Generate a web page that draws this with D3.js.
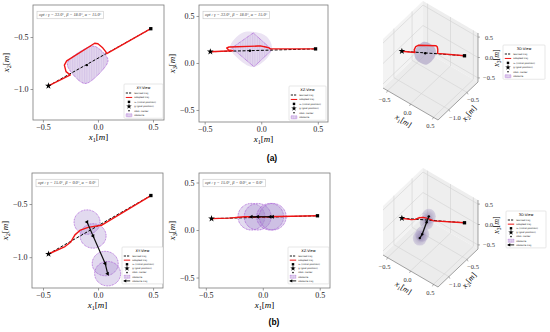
<!DOCTYPE html>
<html><head><meta charset="utf-8">
<script src="https://cdn.jsdelivr.net/npm/d3@7"></script>
<style>body{margin:0;background:#fff}</style>
</head><body>
<script>
// ---- values ----
// initial position x0 (square) and goal g (star): [x1, x2, x3]
var initPos = [0.48, -0.42, 0.15],
    goalPos = [-0.45, -0.97, 0.12];

// learned trajectory (straight line between the two)
var learnedX1 = [-0.45, 0.48],
    learnedX2 = [-0.97, -0.42],
    learnedX3 = [0.12, 0.15];

// (a) static obstacle
var adaptA_x1 = [-0.45, -0.25, -0.29, -0.305, -0.284, -0.03, 0.0, 0.04, 0.07, 0.08, 0.48],
    adaptA_x2 = [-0.97, -0.865, -0.833, -0.77, -0.73, -0.56, -0.565, -0.6, -0.64, -0.66, -0.42],
    adaptA_x3 = [0.12, 0.13, 0.14, 0.16, 0.17, 0.18, 0.18, 0.17, 0.16, 0.15, 0.15];
var obsA_center = [-0.1, -0.77, 0.13];
var obsA_xy_x1 = [-0.269, -0.071, -0.018, 0.088, 0.082, -0.092, -0.147, -0.273],
    obsA_xy_x2 = [-0.731, -0.592, -0.594, -0.706, -0.759, -0.941, -0.937, -0.786];
var obsA_xzBlob_x1 = [-0.276, -0.17, -0.055, 0.05, 0.095, 0.06, -0.073, -0.21],
    obsA_xzBlob_x3 = [0.17, 0.32, 0.33, 0.28, 0.17, 0.064, -0.043, 0.053];
var obsA_xzDia_x1 = [-0.07, 0.095, -0.064, -0.26],
    obsA_xzDia_x3 = [0.32, 0.14, -0.04, 0.16];
var obsA_half = [0.12, 0.12, 0.1];

// (b) moving obstacle
var adaptB_x1 = [-0.45, -0.30, -0.25, -0.21, -0.16, -0.09, 0.03, 0.48],
    adaptB_x2 = [-0.97, -0.90, -0.86, -0.79, -0.745, -0.72, -0.70, -0.42],
    adaptB_x3 = [0.12, 0.125, 0.13, 0.135, 0.14, 0.14, 0.14, 0.15];
var obsB_x1 = [-0.10, -0.045, 0.065, 0.087],
    obsB_x2 = [-0.67, -0.80, -1.06, -1.155],
    obsB_x3 = [0.14, 0.14, 0.14, 0.14];
var obsB_radius = [0.118, 0.115, 0.14];

var optA = "opt : γ = 33.0°, β = 18.0°, α = 15.0°",
    optB = "opt : γ = 15.0°, β = 0.0°, α = 0.0°";
var ticksX = [-0.5, 0.0, 0.5],
    ticksXY = [-1.0, -0.5],
    ticksXZ = [-0.5, 0.0, 0.5];

var serif = "'Liberation Serif','DejaVu Serif',serif",
    sans = "'DejaVu Sans',sans-serif",
    red = "#f01414", purple = "#a451d4";

var svg = d3.select("body").append("svg").attr("width", 550).attr("height", 332);
var defs = svg.append("defs");
var hatch = defs.append("pattern").attr("id", "hatch").attr("patternUnits", "userSpaceOnUse")
    .attr("width", 2.4).attr("height", 4);
hatch.append("rect").attr("width", 2.4).attr("height", 4).attr("fill", "#e2d6ee");
hatch.append("line").attr("x1", 0.6).attr("x2", 0.6).attr("y1", 0).attr("y2", 4)
    .attr("stroke", "#c2acdd").attr("stroke-width", 0.5);
var rg = defs.append("radialGradient").attr("id", "ball");
rg.append("stop").attr("offset", "0%").attr("stop-color", "#6d5c92").attr("stop-opacity", 0.55);
rg.append("stop").attr("offset", "100%").attr("stop-color", "#a99cc8").attr("stop-opacity", 0.35);

var fmt = d3.format(".1f");

function mathLabel(t, sub, fs) {
    t.attr("font-family", serif).attr("font-size", fs);
    t.append("tspan").attr("font-style", "italic").text("x");
    t.append("tspan").attr("font-size", fs * 0.7).attr("dy", fs * 0.25).text(sub);
    t.append("tspan").attr("dy", -fs * 0.25).text("[");
    t.append("tspan").attr("font-style", "italic").text("m");
    t.append("tspan").text("]");
}

var sym = {
    square: d3.symbol(d3.symbolSquare, 11),
    star: d3.symbol(d3.symbolStar, 14),
    tri: d3.symbol(d3.symbolTriangle, 7)
};

function panel2D(o) {
    var x = d3.scaleLinear().domain(o.xDom).range([o.left, o.right]),
        y = d3.scaleLinear().domain(o.yDom).range([o.bottom, o.top]),
        g = svg.append("g");
    var ax = g.append("g").attr("transform", "translate(0," + o.bottom + ")")
        .call(d3.axisBottom(x).tickValues(ticksX).tickSize(2.5).tickPadding(2).tickFormat(fmt));
    var ay = g.append("g").attr("transform", "translate(" + o.left + ",0)")
        .call(d3.axisLeft(y).tickValues(o.yTicks).tickSize(2.5).tickPadding(2).tickFormat(fmt));
    [ax, ay].forEach(function (a) {
        a.select(".domain").remove();
        a.selectAll("line").attr("stroke", "#555").attr("stroke-width", 0.6);
        a.selectAll("text").attr("font-family", serif).attr("font-size", 8).attr("fill", "#222");
    });
    var id = "clip" + o.id;
    defs.append("clipPath").attr("id", id).append("rect")
        .attr("x", o.left).attr("y", o.top).attr("width", o.right - o.left).attr("height", o.bottom - o.top);
    var plot = g.append("g").attr("clip-path", "url(#" + id + ")");
    g.append("rect").attr("x", o.left).attr("y", o.top).attr("width", o.right - o.left).attr("height", o.bottom - o.top)
        .attr("fill", "none").attr("stroke", "#7a7a7a").attr("stroke-width", 0.8);
    mathLabel(g.append("text").attr("x", (o.left + o.right) / 2).attr("y", o.bottom + 20).attr("text-anchor", "middle"), "1", 9);
    mathLabel(g.append("text").attr("text-anchor", "middle")
        .attr("transform", "translate(" + (o.left - 24) + "," + ((o.top + o.bottom) / 2) + ") rotate(-90)"), o.ySub, 9);
    // opt label with framed box
    var og = g.append("g");
    var ob = og.append("rect");
    var ot = og.append("text").attr("x", o.left + 6).attr("y", o.top + 11).attr("font-family", serif)
        .attr("font-style", "italic").attr("font-size", 4.3).attr("fill", "#333").text(o.opt);
    var bb = ot.node().getBBox();
    ob.attr("x", bb.x - 2).attr("y", bb.y - 0.8).attr("width", bb.width + 4)
        .attr("height", bb.height + 1.6).attr("fill", "#fff").attr("stroke", "#bbb").attr("stroke-width", 0.5);
    return {x: x, y: y, g: g, plot: plot};
}

function legend(x0, y0, w, sp, title, entries) {
    var n = entries.length, h = 9 + (n - 1) * sp + 3;
    var lg = svg.append("g");
    lg.append("rect").attr("x", x0).attr("y", y0).attr("width", w).attr("height", h).attr("rx", 0.8)
        .attr("fill", "#fff").attr("stroke", "#cfcfcf").attr("stroke-width", 0.5);
    lg.append("text").attr("x", x0 + w / 2).attr("y", y0 + 4.8).attr("text-anchor", "middle")
        .attr("font-family", sans).attr("font-size", 3.6).text(title);
    entries.forEach(function (e, i) {
        var cy = y0 + 9 + i * sp, a = x0 + 1.8, b = x0 + 8.2, m = (a + b) / 2;
        if (e[0] === "learned")
            lg.append("line").attr("x1", a).attr("x2", b).attr("y1", cy).attr("y2", cy)
                .attr("stroke", "#000").attr("stroke-width", 0.9).attr("stroke-dasharray", "2.2,1");
        if (e[0] === "adapted")
            lg.append("line").attr("x1", a).attr("x2", b).attr("y1", cy).attr("y2", cy)
                .attr("stroke", red).attr("stroke-width", 1);
        if (e[0] === "init")
            lg.append("path").attr("d", d3.symbol(d3.symbolSquare, 6)()).attr("transform", "translate(" + m + "," + cy + ")");
        if (e[0] === "goal")
            lg.append("path").attr("d", d3.symbol(d3.symbolStar, 9)()).attr("transform", "translate(" + m + "," + cy + ")");
        if (e[0] === "center")
            lg.append("circle").attr("cx", m).attr("cy", cy).attr("r", 0.8);
        if (e[0] === "obstacle")
            lg.append("rect").attr("x", a + 0.3).attr("y", cy - 1.5).attr("width", b - a - 0.6).attr("height", 3)
                .attr("fill", "url(#hatch)").attr("stroke", purple).attr("stroke-width", 0.6).attr("stroke-dasharray", "0.6,0.6");
        if (e[0] === "obstraj") {
            lg.append("line").attr("x1", a).attr("x2", b).attr("y1", cy).attr("y2", cy).attr("stroke", "#000").attr("stroke-width", 0.9);
            lg.append("path").attr("d", d3.symbol(d3.symbolTriangle, 5)()).attr("transform", "translate(" + (a + 1.5) + "," + cy + ") rotate(-90)");
        }
        lg.append("text").attr("x", x0 + 10.2).attr("y", cy + 0.8).attr("font-family", sans)
            .attr("font-size", 2.4).attr("fill", "#111").text(e[1]);
    });
}

var entriesA = [["learned", "learned traj."], ["adapted", "adapted traj."], ["init", "x\u2080 (initial position)"],
    ["goal", "g (goal position)"], ["center", "obst. center"], ["obstacle", "obstacle"]];
var entriesB = entriesA.concat([["obstraj", "obstacle traj."]]);

function pathLine(px, py, xs, ys) {
    return d3.line().x(function (d) { return px(d); }).y(function (d, i) { return py(ys[i]); })(xs);
}

function drawTraj(P, xs, ys, lx, ly) {
    P.plot.append("path").attr("d", pathLine(P.x, P.y, lx, ly)).attr("fill", "none")
        .attr("stroke", "#000").attr("stroke-width", 1.0).attr("stroke-dasharray", "3,1.6");
    P.plot.append("path").attr("d", pathLine(P.x, P.y, xs, ys)).attr("fill", "none")
        .attr("stroke", red).attr("stroke-width", 1.4).attr("stroke-linejoin", "round");
}

function placeMarkers(P, yIdx) {
    P.plot.append("path").attr("d", sym.square()).attr("transform", "translate(" + P.x(initPos[0]) + "," + P.y(initPos[yIdx]) + ")");
    P.plot.append("path").attr("d", sym.star()).attr("transform", "translate(" + P.x(goalPos[0]) + "," + P.y(goalPos[yIdx]) + ")");
}

function obstacleShape(P, xs, ys, fill, dotted) {
    var line = d3.line().curve(d3.curveCatmullRomClosed.alpha(0.5))
        .x(function (d) { return P.x(d); }).y(function (d, i) { return P.y(ys[i]); });
    P.plot.append("path").attr("d", line(xs)).attr("fill", fill)
        .attr("stroke", dotted ? purple : "none").attr("stroke-width", 0.9).attr("stroke-dasharray", "0.8,0.8");
}

// ================= (a) =================
var aXY = panel2D({id: "aXY", left: 33, right: 164, top: 5, bottom: 120, xDom: [-0.59, 0.6], yDom: [-1.298, -0.192],
    yTicks: ticksXY, ySub: "2", opt: optA});
obstacleShape(aXY, obsA_xy_x1, obsA_xy_x2, "url(#hatch)", true);
drawTraj(aXY, adaptA_x1, adaptA_x2, learnedX1, learnedX2);
aXY.plot.append("circle").attr("cx", aXY.x(obsA_center[0])).attr("cy", aXY.y(obsA_center[1])).attr("r", 1.2);
placeMarkers(aXY, 1);
legend(124, 84, 39, 4.45, "XY-View", entriesA);

var aXZ = panel2D({id: "aXZ", left: 199, right: 328, top: 5, bottom: 122, xDom: [-0.55, 0.59], yDom: [-0.628, 0.617],
    yTicks: ticksXZ, ySub: "3", opt: optA});
obstacleShape(aXZ, obsA_xzBlob_x1, obsA_xzBlob_x3, "#ebe3f3", false);
aXZ.plot.append("path").attr("d", d3.line().x(function (d) { return aXZ.x(d); })
        .y(function (d, i) { return aXZ.y(obsA_xzDia_x3[i]); }).curve(d3.curveLinearClosed)(obsA_xzDia_x1))
    .attr("fill", "url(#hatch)").attr("stroke", purple).attr("stroke-width", 0.9).attr("stroke-dasharray", "0.8,0.8");
drawTraj(aXZ, adaptA_x1, adaptA_x3, learnedX1, learnedX3);
aXZ.plot.append("circle").attr("cx", aXZ.x(obsA_center[0])).attr("cy", aXZ.y(obsA_center[2])).attr("r", 1.2);
placeMarkers(aXZ, 2);
legend(289, 86, 37, 4.45, "XZ-View", entriesA);

// ================= (b) =================
function ellipses(P, yArr, ry) {
    obsB_x1.forEach(function (cx, i) {
        P.plot.append("ellipse").attr("cx", P.x(cx)).attr("cy", P.y(yArr[i]))
            .attr("rx", Math.abs(P.x(obsB_radius[0]) - P.x(0)))
            .attr("ry", Math.abs(P.y(ry) - P.y(0)))
            .attr("fill", "#9f86c9").attr("fill-opacity", 0.3)
            .attr("stroke", purple).attr("stroke-width", 0.9).attr("stroke-dasharray", "0.8,0.8");
    });
}
function obsTraj(P, yArr) {
    P.plot.append("path").attr("d", pathLine(P.x, P.y, obsB_x1, yArr)).attr("fill", "none")
        .attr("stroke", "#111").attr("stroke-width", 1.2);
    obsB_x1.forEach(function (cx, i) {
        P.plot.append("path").attr("d", sym.tri()).attr("transform",
            "translate(" + P.x(cx) + "," + P.y(yArr[i]) + ") rotate(-90)");
    });
}

var bXY = panel2D({id: "bXY", left: 32, right: 163, top: 173, bottom: 288, xDom: [-0.6, 0.59], yDom: [-1.29, -0.208],
    yTicks: ticksXY, ySub: "2", opt: optB});
ellipses(bXY, obsB_x2, obsB_radius[1]);
drawTraj(bXY, adaptB_x1, adaptB_x2, learnedX1, learnedX2);
obsTraj(bXY, obsB_x2);
placeMarkers(bXY, 1);
legend(122, 247, 41, 4.15, "XY-View", entriesB);

var bXZ = panel2D({id: "bXZ", left: 199, right: 330, top: 173, bottom: 288, xDom: [-0.56, 0.59], yDom: [-0.61, 0.6],
    yTicks: ticksXZ, ySub: "3", opt: optB});
ellipses(bXZ, obsB_x3, obsB_radius[2]);
drawTraj(bXZ, adaptB_x1, adaptB_x3, learnedX1, learnedX3);
obsTraj(bXZ, obsB_x3);
placeMarkers(bXZ, 2);
legend(288, 247, 41, 4.15, "XZ-View", entriesB);

// ================= 3D views =================
function view3D(dy, withB) {
    var fx = d3.scaleLinear().domain([-0.6, 0.6]).range([0, 1]),
        fy = d3.scaleLinear().domain([-1.3, -0.2]).range([0, 1]),
        fz = d3.scaleLinear().domain([-0.6, 0.6]).range([0, 1]);
    var O = [383, 88 + dy], ex = [55, 32], ey = [40, -38], ez = [0, -49];
    function P(a, b, c) {
        var u = fx(a), v = fy(b), w = fz(c);
        return [O[0] + u * ex[0] + v * ey[0] + w * ez[0], O[1] + u * ex[1] + v * ey[1] + w * ez[1]];
    }
    var X0 = -0.6, X1 = 0.6, Y0 = -1.3, Y1 = -0.2, Z0 = -0.6, Z1 = 0.6;
    var g = svg.append("g");
    var poly = function (pts, fill) {
        g.append("polygon").attr("points", pts.map(function (p) { return p.join(","); }).join(" ")).attr("fill", fill);
    };
    poly([P(X0, Y0, Z0), P(X1, Y0, Z0), P(X1, Y1, Z0), P(X0, Y1, Z0)], "#ececec");
    poly([P(X0, Y0, Z0), P(X0, Y1, Z0), P(X0, Y1, Z1), P(X0, Y0, Z1)], "#f3f3f3");
    poly([P(X0, Y1, Z0), P(X1, Y1, Z0), P(X1, Y1, Z1), P(X0, Y1, Z1)], "#eeeeee");
    var seg = function (a, b, col, w) {
        g.append("line").attr("x1", a[0]).attr("y1", a[1]).attr("x2", b[0]).attr("y2", b[1])
            .attr("stroke", col).attr("stroke-width", w);
    };
    var gc = "#d2d2d2";
    ticksX.forEach(function (t) { seg(P(t, Y0, Z0), P(t, Y1, Z0), gc, 0.6); seg(P(t, Y1, Z0), P(t, Y1, Z1), gc, 0.6); });
    ticksXY.forEach(function (t) { seg(P(X0, t, Z0), P(X1, t, Z0), gc, 0.6); seg(P(X0, t, Z0), P(X0, t, Z1), gc, 0.6); });
    ticksXZ.forEach(function (t) { seg(P(X0, Y0, t), P(X0, Y1, t), gc, 0.6); seg(P(X0, Y1, t), P(X1, Y1, t), gc, 0.6); });
    // axis lines
    seg(P(X0, Y0, Z0), P(X1, Y0, Z0), "#666", 0.6);
    seg(P(X1, Y0, Z0), P(X1, Y1, Z0), "#666", 0.6);
    seg(P(X1, Y1, Z0), P(X1, Y1, Z1), "#666", 0.6);
    var tl = function (p, dx, dyy, s) {
        g.append("text").attr("x", p[0] + dx).attr("y", p[1] + dyy).attr("text-anchor", "middle")
            .attr("font-family", serif).attr("font-size", 6.5).attr("fill", "#333").text(fmt(s));
    };
    ticksX.forEach(function (t) { var p = P(t, Y0, Z0); seg(p, [p[0] - 1, p[1] + 2], "#666", 0.5); tl(p, -3, 11, t); });
    ticksXY.forEach(function (t) { var p = P(X1, t, Z0); seg(p, [p[0] + 1, p[1] + 2], "#666", 0.5); tl(p, 6, 10, t); });
    ticksXZ.forEach(function (t) { var p = P(X1, Y1, t); seg(p, [p[0] + 2, p[1]], "#666", 0.5); tl(p, 11, 2.5, t); });
    mathLabel(g.append("text").attr("text-anchor", "middle")
        .attr("transform", "translate(402," + (123 + dy) + ") rotate(32)"), "1", 8);
    mathLabel(g.append("text").attr("text-anchor", "middle")
        .attr("transform", "translate(471," + (115 + dy) + ") rotate(-50)"), "2", 8);
    mathLabel(g.append("text").attr("text-anchor", "middle")
        .attr("transform", "translate(499," + (58 + dy) + ") rotate(-90)"), "3", 8);

    // contents
    var l3 = function (xs, ys, zs) {
        return d3.line().x(function (d, i) { return P(d, ys[i], zs[i])[0]; })
            .y(function (d, i) { return P(d, ys[i], zs[i])[1]; })(xs);
    };
    if (!withB) {
        var pts = [];
        [-1, 1].forEach(function (a) { [-1, 1].forEach(function (b) { [-1, 1].forEach(function (c) {
            pts.push(P(obsA_center[0] + a * obsA_half[0], obsA_center[1] + b * obsA_half[1], obsA_center[2] + c * obsA_half[2]));
        }); }); });
        var hull = d3.polygonHull(pts);
        g.append("path").attr("d", d3.line().curve(d3.curveCatmullRomClosed)(hull))
            .attr("fill", "#a79bc2").attr("fill-opacity", 0.6);
    } else {
        obsB_x1.forEach(function (cx, i) {
            var c = P(cx, obsB_x2[i], obsB_x3[i]);
            g.append("ellipse").attr("cx", c[0]).attr("cy", c[1]).attr("rx", 7).attr("ry", 7.5).attr("fill", "url(#ball)");
        });
    }
    g.append("path").attr("d", l3(learnedX1, learnedX2, learnedX3)).attr("fill", "none")
        .attr("stroke", "#000").attr("stroke-width", 1.0).attr("stroke-dasharray", "3,1.6");
    var ax = withB ? [adaptB_x1, adaptB_x2, adaptB_x3] : [adaptA_x1, adaptA_x2, adaptA_x3];
    g.append("path").attr("d", l3(ax[0], ax[1], ax[2])).attr("fill", "none")
        .attr("stroke", red).attr("stroke-width", 1.4).attr("stroke-linejoin", "round");
    if (withB) {
        g.append("path").attr("d", l3(obsB_x1, obsB_x2, obsB_x3)).attr("fill", "none")
            .attr("stroke", "#111").attr("stroke-width", 1.3);
        obsB_x1.forEach(function (cx, i) {
            var c = P(cx, obsB_x2[i], obsB_x3[i]);
            g.append("circle").attr("cx", c[0]).attr("cy", c[1]).attr("r", 1.2);
        });
    } else {
        var c = P(obsA_center[0], obsA_center[1], obsA_center[2]);
        g.append("circle").attr("cx", c[0]).attr("cy", c[1]).attr("r", 1.2);
    }
    var pi = P(initPos[0], initPos[1], initPos[2]), pg = P(goalPos[0], goalPos[1], goalPos[2]);
    g.append("path").attr("d", sym.square()).attr("transform", "translate(" + pi[0] + "," + pi[1] + ")");
    g.append("path").attr("d", sym.star()).attr("transform", "translate(" + pg[0] + "," + pg[1] + ")");
}
view3D(0, false);
legend(503, 45, 42, 4.45, "3D-View", entriesA);
view3D(167, true);
legend(506, 211, 40, 4.15, "3D-View", entriesB);

// panel captions
svg.append("text").attr("x", 272).attr("y", 161).attr("text-anchor", "middle").attr("font-family", "'Liberation Sans',Arial,sans-serif")
    .attr("font-weight", "bold").attr("font-size", 8.5).text("(a)");
svg.append("text").attr("x", 274).attr("y", 325).attr("text-anchor", "middle").attr("font-family", "'Liberation Sans',Arial,sans-serif")
    .attr("font-weight", "bold").attr("font-size", 8.5).text("(b)");
</script>
</body></html>
